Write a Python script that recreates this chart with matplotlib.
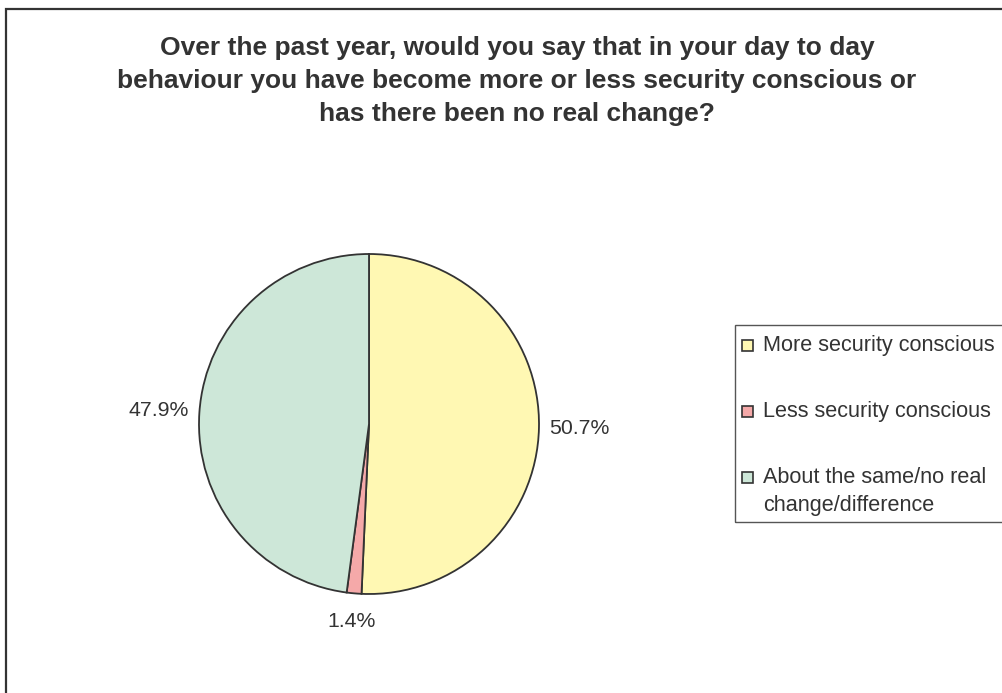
import matplotlib.pyplot as plt
from matplotlib.patches import Rectangle

categories = ["More security conscious", "Less security conscious",
              "About the same/no real\nchange/difference"]
shares = [50.7, 1.4, 47.9]
colors = ["#FFF8B3", "#F5A9A9", "#CDE7D8"]
title = ("Over the past year, would you say that in your day to day\n"
         "behaviour you have become more or less security conscious or\n"
         "has there been no real change?")

W, H = 1003, 693
fig = plt.figure(figsize=(W / 100, H / 100), dpi=100)
plt.rcParams['font.family'] = ['Liberation Sans', 'DejaVu Sans']

# outer chart frame (runs off the right and bottom edges)
fig.patches.append(Rectangle((6 / W, -0.05), 1.1, 1 - 9 / H + 0.05,
                             transform=fig.transFigure, fill=False,
                             edgecolor="#333333", linewidth=1.6))

fig.text(517 / W, 1 - 81 / H, title, ha="center", va="center",
         fontsize=19, fontweight="bold", color="#333333", linespacing=1.45)

# pie
cx, cy, r = 369, 424, 170
ax = fig.add_axes([(cx - r) / W, (H - cy - r) / H, 2 * r / W, 2 * r / H])
wedges, texts, autotexts = ax.pie(
    shares, colors=colors, startangle=90, counterclock=False, radius=1,
    autopct="%.1f%%", pctdistance=1.24,
    wedgeprops=dict(edgecolor="#333333", linewidth=1.3))
for t in autotexts:
    t.set_fontsize(15.3)
    t.set_color("#333333")
# small slice label sits closer to the rim
x, y = autotexts[1].get_position()
autotexts[1].set_position((x * 0.94, y * 0.94))
ax.set_aspect("equal")
ax.set_xlim(-1, 1)
ax.set_ylim(-1, 1)

# legend box
fig.patches.append(Rectangle((735 / W, 1 - 522 / H), 0.5, 197 / H,
                             transform=fig.transFigure, fill=False,
                             edgecolor="#555555", linewidth=1.0))
ys = [345, 411, 477]
for lab, col, y in zip(categories, colors, ys):
    fig.patches.append(Rectangle((742 / W, 1 - (y + 6) / H), 11 / W, 11 / H,
                                 transform=fig.transFigure, facecolor=col,
                                 edgecolor="#333333", linewidth=1.2))
    fig.text(763 / W, 1 - (y - 10) / H, lab, ha="left", va="top",
             fontsize=15.6, color="#333333", linespacing=1.45)

fig.savefig("out.png", dpi=100)
